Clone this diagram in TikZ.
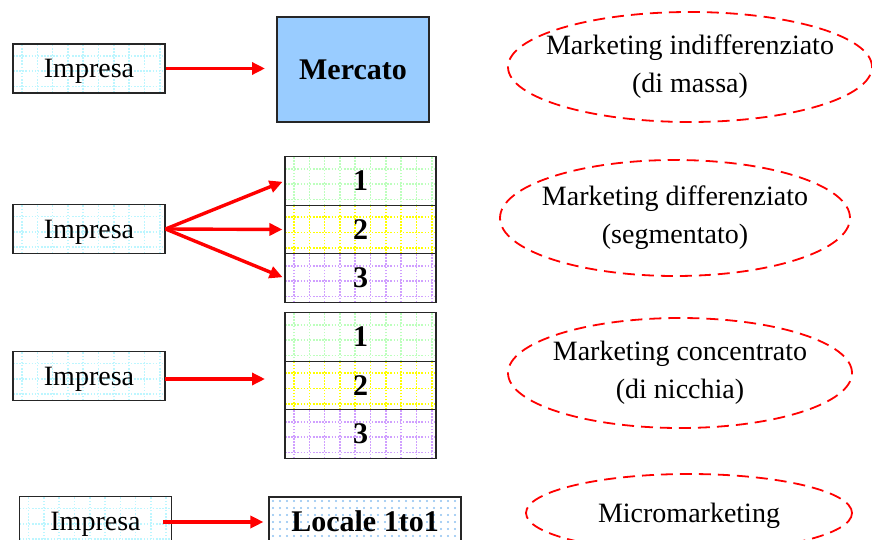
\documentclass[tikz,border=0pt]{standalone}
\usepackage{fontspec}
\setmainfont{Liberation Serif}
\usetikzlibrary{shapes.geometric,arrows.meta}
\definecolor{boxblue}{HTML}{99CCFF}
\definecolor{gcyan}{HTML}{BDF6FF}
\definecolor{ggreen}{HTML}{BDFFBD}
\definecolor{gyellow}{HTML}{FFFF00}
\definecolor{gviolet}{HTML}{D0A0FF}
\definecolor{gdots}{HTML}{8CC0F0}
\definecolor{arrred}{HTML}{FF0000}
\tikzset{
  txt/.style={font=\fontsize{28}{38}\selectfont},
  btxt/.style={font=\fontsize{30}{38}\selectfont\bfseries},
  boxbase/.style={draw=black!85, line width=1.1pt, inner sep=0pt, txt},
  gridfill/.style={path picture={
    \foreach \k in {0,...,11}{
      \draw[#1, line width=1.6pt, dash pattern=on 1.6pt off 1.5pt]
        ([xshift=9pt+\k*15.3pt]path picture bounding box.south west) --
        ([xshift=9pt+\k*15.3pt]path picture bounding box.north west);}
    \foreach \k in {0,...,6}{
      \draw[#1, line width=1.6pt, dash pattern=on 1.6pt off 1.5pt]
        ([yshift=-12pt-\k*15.3pt]path picture bounding box.north west) --
        ([yshift=-12pt-\k*15.3pt]path picture bounding box.north east);}
  }},
  dotfill/.style={path picture={
    \foreach \i in {0,...,27}{
      \foreach \j in {0,...,7}{
        \fill[#1] ([xshift=4pt+\i*7pt,yshift=-4pt-\j*7pt]path picture bounding box.north west) circle (1.2pt);}}
  }},
  impbox/.style={boxbase, minimum width=152pt, minimum height=49pt, text depth=0pt, gridfill=gcyan},
  segbox/.style={boxbase, minimum width=151pt, minimum height=48.5pt, btxt},
  redarrow/.style={draw=arrred, line width=3.4pt, -{Triangle[length=13pt,width=12pt]}},
  ell/.style={ellipse, draw=arrred, line width=1.8pt, dash pattern=on 12pt off 7pt, inner sep=0pt},
  elltext/.style={align=center, inner sep=0pt, txt},
}
\begin{document}
\begin{tikzpicture}[x=1pt,y=-1pt]
\useasboundingbox (0,0) rectangle (872,540);

% Row 1
\node[impbox] (imp1) at (89,68.5) {Impresa};
\node[boxbase, fill=boxblue, minimum width=152pt, minimum height=105pt, btxt] (merc) at (353,69.5) {Mercato};
\coordinate (t1) at (265,68.5);
\draw[redarrow] (imp1.east) -- (t1);
\node[ell, minimum width=364pt, minimum height=110pt] (e1) at (690,67) {};
\node[elltext] (l1) at (e1.center) {Marketing indifferenziato\\(di massa)};

% Row 2
\node[impbox] (imp2) at (89,229) {Impresa};
\node[segbox, gridfill=ggreen] (a1) at (360.5,181) {1};
\node[segbox, gridfill=gyellow] (a2) at (360.5,229.5) {2};
\node[segbox, gridfill=gviolet] (a3) at (360.5,278) {3};
\draw[redarrow, shorten >=2pt] (imp2.east) -- (a1.west);
\draw[redarrow, shorten >=2pt] (imp2.east) -- (a2.west);
\draw[redarrow, shorten >=2pt] (imp2.east) -- (a3.west);
\node[ell, minimum width=350pt, minimum height=116pt] (e2) at (675,218) {};
\node[elltext] (l2) at (e2.center) {Marketing differenziato\\(segmentato)};

% Row 3
\node[impbox] (imp3) at (89,376) {Impresa};
\node[segbox, gridfill=ggreen] (b1) at (360.5,337) {1};
\node[segbox, gridfill=gyellow] (b2) at (360.5,385.5) {2};
\node[segbox, gridfill=gviolet] (b3) at (360.5,434) {3};
\coordinate (s3) at (165,379);
\coordinate (t3) at (265,379);
\draw[redarrow] (s3) -- (t3);
\node[ell, minimum width=344pt, minimum height=110pt] (e3) at (680,373) {};
\node[elltext] (l3) at (e3.center) {Marketing concentrato\\(di nicchia)};

% Row 4
\node[impbox] (imp4) at (95.5,521) {Impresa};
\node[boxbase, dotfill=gdots, minimum width=192pt, minimum height=48pt, btxt] (loc) at (365,521) {Locale 1to1};
\coordinate (s4) at (163,522);
\draw[redarrow, shorten >=5pt] (s4) -- (s4 -| loc.west);
\node[ell, minimum width=326pt, minimum height=78pt] (e4) at (689,513) {};
\node[elltext, text depth=0pt] (l4) at (e4.center) {Micromarketing};
\end{tikzpicture}
\end{document}
